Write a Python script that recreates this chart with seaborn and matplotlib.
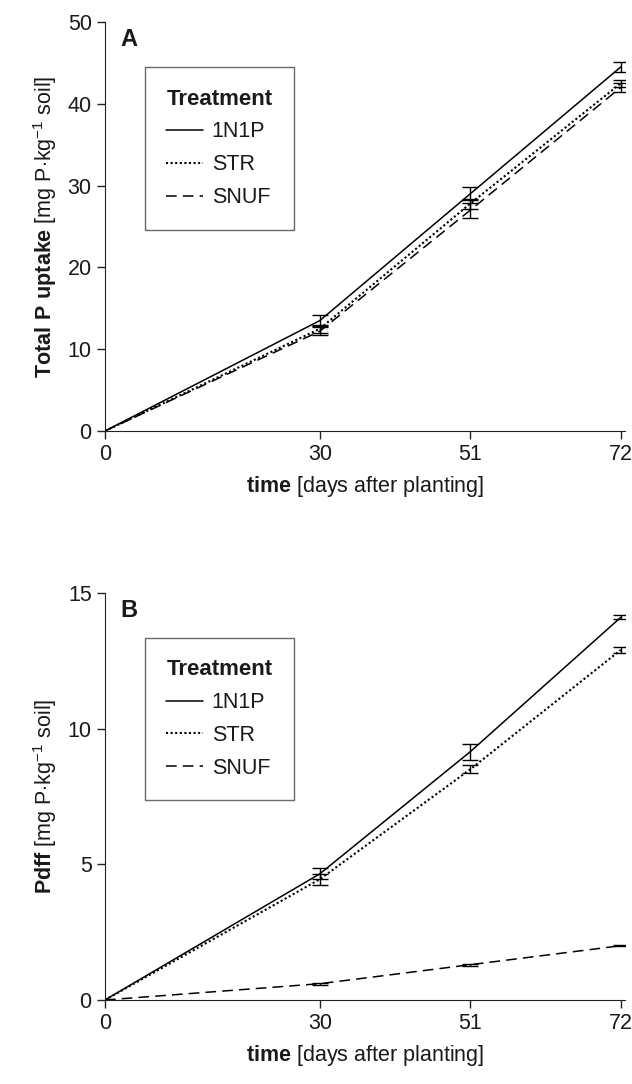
import pandas as pd
import matplotlib.pyplot as plt
import seaborn as sns
from matplotlib.lines import Line2D

days = [0, 30, 51, 72]
treatments = ["1N1P", "STR", "SNUF"]

# panel A: total P uptake
uptake_1n1p = [0, 13.5, 29.0, 44.5]
uptake_str = [0, 12.5, 27.8, 42.5]
uptake_snuf = [0, 12.2, 27.0, 42.0]
uptake_err_1n1p = [0, 0.7, 0.8, 0.6]
uptake_err_str = [0, 0.5, 0.6, 0.4]
uptake_err_snuf = [0, 0.5, 0.9, 0.5]

# panel B: Pdff
pdff_1n1p = [0, 4.65, 9.15, 14.1]
pdff_str = [0, 4.45, 8.5, 12.9]
pdff_snuf = [0, 0.6, 1.3, 2.0]
pdff_err_1n1p = [0, 0.2, 0.3, 0.07]
pdff_err_str = [0, 0.2, 0.15, 0.1]
pdff_err_snuf = [0, 0.03, 0.03, 0.02]

sns.set_style("ticks")
plt.rcParams['font.family'] = ['Liberation Sans', 'DejaVu Sans']
plt.rcParams['mathtext.fontset'] = 'custom'
plt.rcParams['mathtext.rm'] = 'Liberation Sans'
plt.rcParams['mathtext.bf'] = 'Liberation Sans:bold'
plt.rcParams['axes.edgecolor'] = '#222222'
plt.rcParams['text.color'] = '#1a1a1a'
plt.rcParams['axes.labelcolor'] = '#1a1a1a'
plt.rcParams['xtick.color'] = '#1a1a1a'
plt.rcParams['ytick.color'] = '#1a1a1a'

styles = {"1N1P": "", "STR": (1, 1.2), "SNUF": (7, 4)}
mpl_styles = {"1N1P": "-", "STR": (0, (1, 1.2)), "SNUF": (0, (7, 4))}
widths = {"1N1P": 1.1, "STR": 1.5, "SNUF": 1.1}


def make_df(vals, errs):
    rows = []
    for t, v, e in zip(treatments, vals, errs):
        for d, y, err in zip(days, v, e):
            rows.append({"day": d, "value": y, "err": err, "treatment": t})
    return pd.DataFrame(rows)


def draw_panel(ax, df, ymax, yticks, ylabel, letter):
    sns.lineplot(data=df, x="day", y="value", hue="treatment", style="treatment",
                 palette=["black"] * 3, dashes=styles, legend=False, lw=1.1, ax=ax)
    # thicker dots for the STR series
    ax.lines[1].set_linewidth(widths["STR"])
    sub = df[df["day"] > 0]
    ax.errorbar(sub["day"], sub["value"], yerr=sub["err"], fmt="none",
                ecolor="black", elinewidth=1, capsize=6, capthick=1)
    ax.set_xlim(0, 72.6)
    ax.set_ylim(0, ymax)
    ax.set_xticks(days)
    ax.set_yticks(yticks)
    ax.tick_params(labelsize=15.5, length=6, width=1, color="#222222")
    ax.set_xlabel(r"$\bf{time}$ [days after planting]", fontsize=15.5, labelpad=6)
    ax.set_ylabel(ylabel, fontsize=15.5, labelpad=6)
    sns.despine(ax=ax)
    ax.text(0.03, 0.985, letter, transform=ax.transAxes, fontsize=17,
            fontweight="bold", va="top")
    handles = [Line2D([], [], color="black", lw=widths[t], linestyle=mpl_styles[t])
               for t in treatments]
    leg = ax.legend(handles, treatments, title="Treatment", loc="upper left",
                    bbox_to_anchor=(0.077, 0.89), borderaxespad=0, fancybox=False,
                    edgecolor="#444444", handlelength=1.7, handletextpad=0.4,
                    fontsize=15.5, alignment="left", borderpad=1.0,
                    labelspacing=0.55,
                    title_fontproperties={"weight": "bold", "size": 16})
    leg.get_frame().set_linewidth(1)


fig = plt.figure(figsize=(6.32, 10.84), dpi=100)
axA = fig.add_axes([0.166, 0.6024, 0.823, 0.3773])
axB = fig.add_axes([0.166, 0.0775, 0.823, 0.3755])

draw_panel(axA, make_df([uptake_1n1p, uptake_str, uptake_snuf],
                        [uptake_err_1n1p, uptake_err_str, uptake_err_snuf]),
           50, [0, 10, 20, 30, 40, 50],
           r"$\bf{Total\ P\ uptake}$ [mg P$\cdot$kg$^{-1}$ soil]", "A")
draw_panel(axB, make_df([pdff_1n1p, pdff_str, pdff_snuf],
                        [pdff_err_1n1p, pdff_err_str, pdff_err_snuf]),
           15, [0, 5, 10, 15],
           r"$\bf{Pdff}$ [mg P$\cdot$kg$^{-1}$ soil]", "B")

fig.savefig("out.png", dpi=100)
